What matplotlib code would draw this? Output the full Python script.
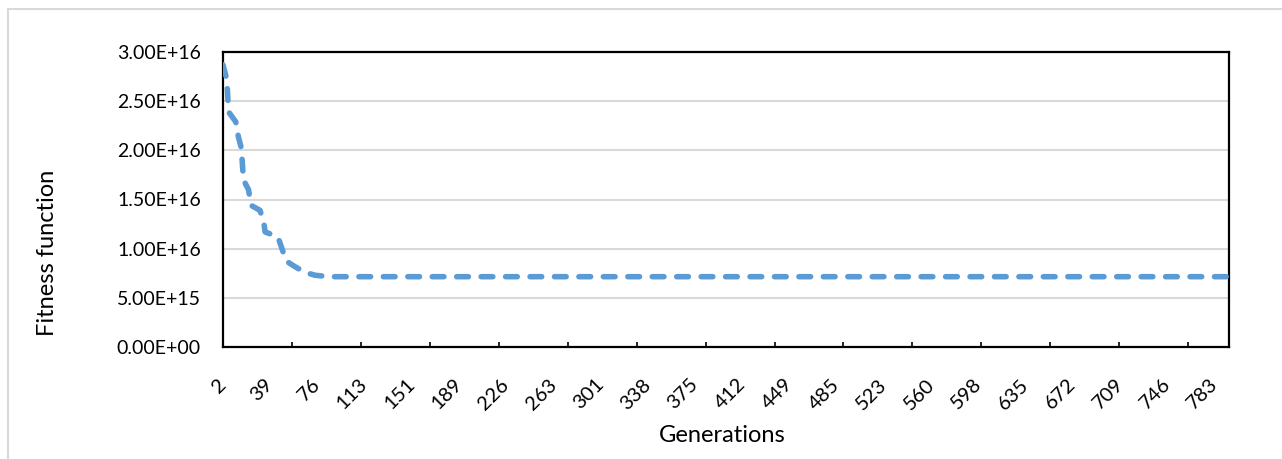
import matplotlib
matplotlib.use('Agg')
import matplotlib.pyplot as plt
from matplotlib.patches import Rectangle

plt.rcParams['font.family'] = ['Lato', 'DejaVu Sans']

# category axis: generations, one category per recorded generation
n_categories = 789
label_step = 37      # Excel label interval
mark_step = 54       # Excel tick mark interval
gen_labels = ['2', '39', '76', '113', '151', '189', '226', '263', '301', '338', '375',
              '412', '449', '485', '523', '560', '598', '635', '672', '709', '746', '783']

# fitness curve (category index, value)
curve_idx = [0, 3, 4, 5, 10, 12, 14, 15, 16, 20, 22, 29, 32, 33, 43, 47, 50, 56, 64, 72, 83, 788]
curve_val = [2.87e16, 2.72e16, 2.48e16, 2.38e16, 2.29e16, 2.14e16, 2.04e16, 1.90e16, 1.70e16,
             1.60e16, 1.44e16, 1.39e16, 1.26e16, 1.17e16, 1.12e16, 0.97e16, 0.87e16, 0.82e16,
             0.76e16, 0.73e16, 0.715e16, 0.715e16]

y_ticks = [0, 5e15, 1e16, 1.5e16, 2e16, 2.5e16, 3e16]

W, H = 1282, 459
fig = plt.figure(figsize=(W / 100, H / 100), dpi=100)

# chart area border (runs off the right and bottom edges)
fig.patches.append(Rectangle((8 / W, -0.1), 1.2, 1 - 9.5 / H + 0.1, transform=fig.transFigure,
                             fill=False, edgecolor='#D9D9D9', linewidth=1.5))

ax = fig.add_axes([223 / W, 1 - 347 / H, (1229 - 223) / W, (347 - 52) / H])

ax.plot(curve_idx, curve_val, color='#5B9BD5', linewidth=4.0,
        linestyle=(0, (2.1, 2.3)), dash_capstyle='round', solid_capstyle='round', zorder=3)

ax.set_xlim(0, n_categories - 1)
ax.set_ylim(0, 3e16)

ax.set_yticks(y_ticks)
ax.set_yticklabels(['{:.2E}'.format(v) for v in y_ticks])
ax.yaxis.grid(True, color='#D9D9D9', linewidth=1.5, zorder=0)
ax.set_axisbelow(True)
ax.tick_params(axis='y', length=0, pad=16, labelsize=14, labelcolor='#000000')

label_pos = [i * label_step for i in range(len(gen_labels))]
ax.set_xticks(label_pos)
ax.set_xticklabels(gen_labels, rotation=45, ha='right', va='center', rotation_mode='anchor')
ax.tick_params(axis='x', which='major', length=0, pad=25, labelsize=14.5)
ax.set_xticks(list(range(0, n_categories, mark_step)), minor=True)
ax.tick_params(axis='x', which='minor', direction='in', length=3.8, width=1.2, color='#000000')

for s in ax.spines.values():
    s.set_linewidth(1.6)
    s.set_color('#000000')

fig.text(722 / W, 1 - 435 / H, 'Generations', ha='center', va='center', fontsize=17)
fig.text(48 / W, 1 - 253 / H, 'Fitness function', ha='center', va='center',
         rotation=90, fontsize=17)

fig.savefig('out.png', dpi=100)
